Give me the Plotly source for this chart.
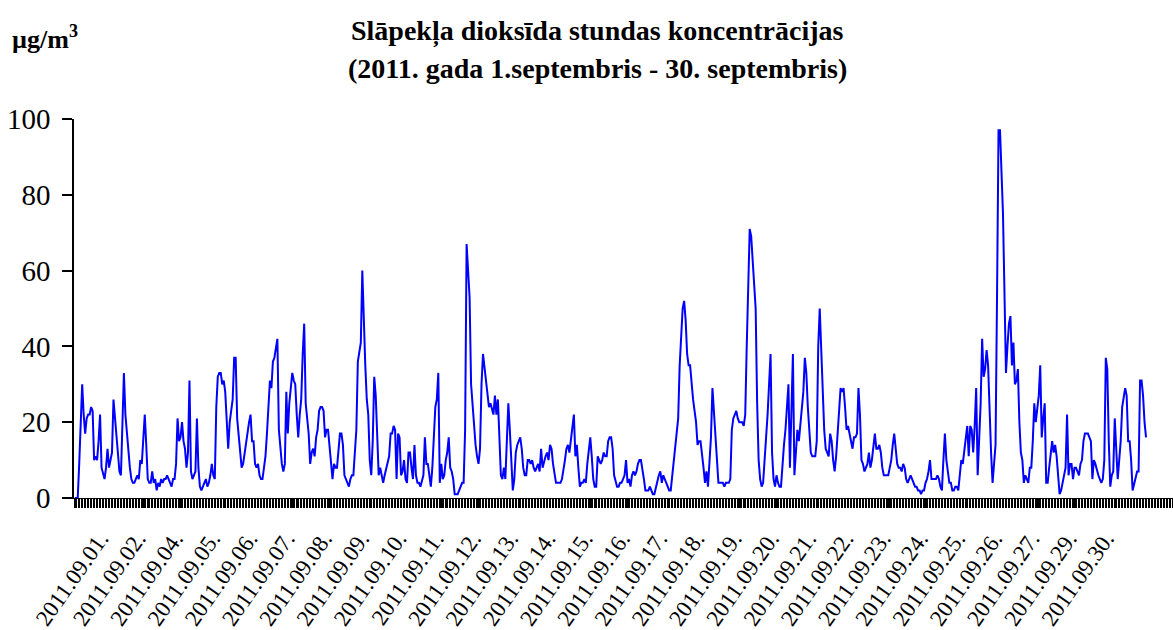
import plotly.graph_objects as go

# Hourly NO2 concentrations, 2011-09-01 .. 2011-09-30 (720 hours)
day01 = [0, 0, 0, 9, 22, 30, 22, 17, 21, 22, 22, 24, 23, 10, 11, 10, 15, 22, 8, 6, 5, 8, 13, 8]
day02 = [10, 12, 26, 21, 16, 10, 7, 6, 20, 33, 22, 17, 13, 8, 5, 4, 4, 5, 6, 5, 10, 9, 15, 22]
day03 = [14, 5, 4, 4, 7, 4, 5, 2, 4, 3, 5, 4, 5, 5, 6, 5, 4, 3, 5, 5, 9, 21, 15, 16]
day04 = [20, 15, 13, 8, 12, 31, 7, 5, 6, 7, 21, 8, 3, 2, 3, 4, 5, 3, 4, 6, 9, 6, 5, 24]
day05 = [32, 33, 33, 30, 31, 28, 22, 13, 20, 23, 26, 37, 37, 21, 17, 13, 8, 9, 12, 14, 18, 20, 22, 15]
day06 = [15, 9, 8, 9, 6, 5, 5, 8, 11, 17, 23, 31, 29, 36, 37, 40, 42, 18, 13, 9, 7, 9, 28, 17]
day07 = [25, 29, 33, 31, 30, 22, 16, 22, 26, 38, 46, 25, 20, 17, 9, 12, 13, 11, 16, 18, 23, 24, 24, 23]
day08 = [16, 18, 18, 14, 8, 5, 9, 8, 8, 12, 17, 17, 14, 6, 5, 4, 3, 5, 6, 6, 14, 18, 36, 38]
day09 = [41, 60, 45, 35, 26, 22, 10, 6, 15, 32, 27, 14, 6, 8, 6, 4, 6, 8, 10, 11, 17, 17, 19, 18]
day10 = [5, 17, 16, 6, 7, 10, 5, 4, 12, 12, 8, 5, 14, 6, 4, 4, 3, 5, 6, 16, 9, 9, 6, 3]
day11 = [8, 15, 24, 26, 33, 4, 9, 5, 6, 10, 12, 16, 8, 7, 5, 1, 1, 1, 2, 3, 4, 4, 18, 67]
day12 = [59, 53, 30, 24, 20, 14, 11, 9, 13, 30, 38, 34, 30, 27, 24, 25, 23, 22, 27, 22, 26, 16, 6, 5]
day13 = [8, 5, 17, 25, 18, 9, 2, 5, 12, 14, 15, 16, 13, 8, 6, 6, 10, 10, 9, 10, 8, 7, 8, 9]
day14 = [7, 13, 8, 10, 11, 12, 10, 14, 13, 9, 7, 4, 4, 4, 4, 5, 7, 10, 13, 14, 12, 15, 19, 22]
day15 = [11, 14, 8, 3, 4, 4, 5, 4, 9, 13, 16, 11, 5, 3, 3, 11, 10, 9, 10, 12, 11, 11, 15, 16]
day16 = [16, 13, 6, 4, 3, 3, 4, 4, 5, 6, 10, 4, 5, 3, 6, 7, 6, 7, 9, 10, 10, 8, 5, 2]
day17 = [2, 2, 3, 2, 1, 1, 3, 4, 6, 7, 4, 6, 5, 4, 3, 2, 2, 6, 11, 15, 19, 21, 35, 45]
day18 = [50, 52, 47, 38, 35, 35, 30, 26, 23, 20, 14, 15, 15, 12, 8, 4, 7, 3, 9, 16, 29, 22, 15, 9]
day19 = [4, 4, 4, 4, 3, 4, 4, 4, 5, 18, 21, 22, 23, 21, 20, 20, 20, 19, 22, 40, 60, 71, 69, 63]
day20 = [58, 50, 25, 10, 5, 3, 4, 9, 16, 22, 29, 38, 12, 5, 3, 6, 4, 3, 3, 10, 14, 18, 24, 30]
day21 = [8, 22, 38, 6, 12, 18, 15, 20, 24, 28, 37, 33, 24, 19, 12, 11, 11, 11, 15, 40, 50, 40, 25, 18]
day22 = [13, 12, 11, 17, 15, 10, 7, 11, 17, 25, 29, 28, 29, 24, 18, 19, 17, 15, 13, 16, 16, 17, 29, 22]
day23 = [10, 9, 7, 8, 9, 12, 8, 10, 13, 17, 13, 13, 14, 12, 8, 6, 6, 6, 6, 8, 10, 14, 17, 13]
day24 = [9, 8, 8, 7, 9, 8, 5, 4, 5, 6, 5, 4, 3, 3, 2, 2, 1, 2, 2, 4, 5, 7, 10, 5]
day25 = [5, 5, 5, 6, 5, 3, 2, 10, 17, 10, 6, 4, 4, 2, 2, 3, 3, 2, 6, 10, 9, 13, 17, 19]
day26 = [11, 19, 18, 12, 19, 29, 6, 14, 25, 42, 32, 34, 39, 35, 22, 12, 4, 9, 14, 53, 97, 97, 86, 75]
day27 = [54, 33, 40, 46, 48, 35, 41, 30, 31, 34, 20, 12, 10, 4, 6, 5, 4, 8, 8, 15, 25, 20, 23, 27]
day28 = [35, 16, 21, 25, 4, 4, 8, 12, 15, 12, 14, 11, 5, 1, 2, 4, 5, 8, 22, 6, 9, 9, 5, 8]
day29 = [8, 7, 6, 9, 10, 15, 17, 17, 17, 16, 15, 5, 10, 9, 7, 6, 5, 4, 5, 10, 37, 34, 15, 3]
day30 = [6, 7, 21, 11, 5, 10, 15, 24, 27, 29, 27, 15, 15, 10, 2, 4, 5, 7, 7, 31, 31, 27, 20, 16]

days = [day01, day02, day03, day04, day05, day06, day07, day08, day09, day10,
        day11, day12, day13, day14, day15, day16, day17, day18, day19, day20,
        day21, day22, day23, day24, day25, day26, day27, day28, day29, day30]
values = [v for d in days for v in d]
hours = list(range(len(values)))

# Category-axis labels as shown (every 25th hour, starting at hour index 21)
tick_labels = ["2011.09.01.", "2011.09.02.", "2011.09.04.", "2011.09.05.", "2011.09.06.",
               "2011.09.07.", "2011.09.08.", "2011.09.09.", "2011.09.10.", "2011.09.11.",
               "2011.09.12.", "2011.09.13.", "2011.09.14.", "2011.09.15.", "2011.09.16.",
               "2011.09.17.", "2011.09.18.", "2011.09.19.", "2011.09.20.", "2011.09.21.",
               "2011.09.22.", "2011.09.23.", "2011.09.24.", "2011.09.25.", "2011.09.26.",
               "2011.09.27.", "2011.09.29.", "2011.09.30."]
tick_positions = [21 + 25 * k for k in range(len(tick_labels))]

y_ticks = [0, 20, 40, 60, 80, 100]

title_line1 = "Slāpekļa dioksīda stundas koncentrācijas"
title_line2 = "(2011. gada 1.septembris - 30. septembris)"
unit_label = "µg/m<sup>3</sup>"

FONT = "Liberation Serif, Times New Roman, serif"

fig = go.Figure()
fig.add_trace(go.Scatter(x=hours, y=values, mode="lines",
                         line=dict(color="#0000FF", width=2), hoverinfo="skip"))

fig.update_layout(
    width=1173, height=630, autosize=False,
    margin=dict(l=74, r=0, t=119, b=129, pad=0),
    paper_bgcolor="white", plot_bgcolor="white",
    showlegend=False,
    font=dict(family=FONT, color="black"),
)

fig.update_xaxes(
    range=[-0.5, 737.1], showgrid=False, zeroline=False,
    showline=True, linecolor="black", linewidth=1,
    tickmode="array", tickvals=tick_positions, ticktext=tick_labels,
    ticks="outside", ticklen=9, tickwidth=1, tickcolor="black",
    tickangle=-55, tickfont=dict(family=FONT, size=23, color="black"),
    ticklabelstandoff=8, ticklabelshift=-6,
    minor=dict(tickmode="linear", tick0=-0.5, dtick=1, ticks="outside",
               ticklen=9, tickwidth=1, tickcolor="black", showgrid=False),
)
fig.update_yaxes(
    range=[0, 100], showgrid=False, zeroline=False,
    showline=True, linecolor="black", linewidth=1.5,
    tickmode="array", tickvals=y_ticks,
    ticks="outside", ticklen=10, tickwidth=1.5, tickcolor="black",
    tickfont=dict(family=FONT, size=29, color="black"),
    ticklabelstandoff=6,
)

fig.add_annotation(text="<b>" + title_line1 + "</b>", xref="paper", yref="paper",
                   x=(597 - 74) / 1099, y=1 + (119 - 31) / 382, showarrow=False,
                   font=dict(family=FONT, size=28, color="black"), xanchor="center", yanchor="middle")
fig.add_annotation(text="<b>" + title_line2 + "</b>", xref="paper", yref="paper",
                   x=(597 - 74) / 1099, y=1 + (119 - 68) / 382, showarrow=False,
                   font=dict(family=FONT, size=28, color="black"), xanchor="center", yanchor="middle")
fig.add_annotation(text="<b>" + unit_label + "</b>", xref="paper", yref="paper",
                   x=(10 - 74) / 1099, y=1 + (119 - 37) / 382, showarrow=False,
                   font=dict(family=FONT, size=26, color="black"), xanchor="left", yanchor="middle")

fig.write_html("out.html", config={"displayModeBar": False},
               post_script="document.body.style.margin='0';")
